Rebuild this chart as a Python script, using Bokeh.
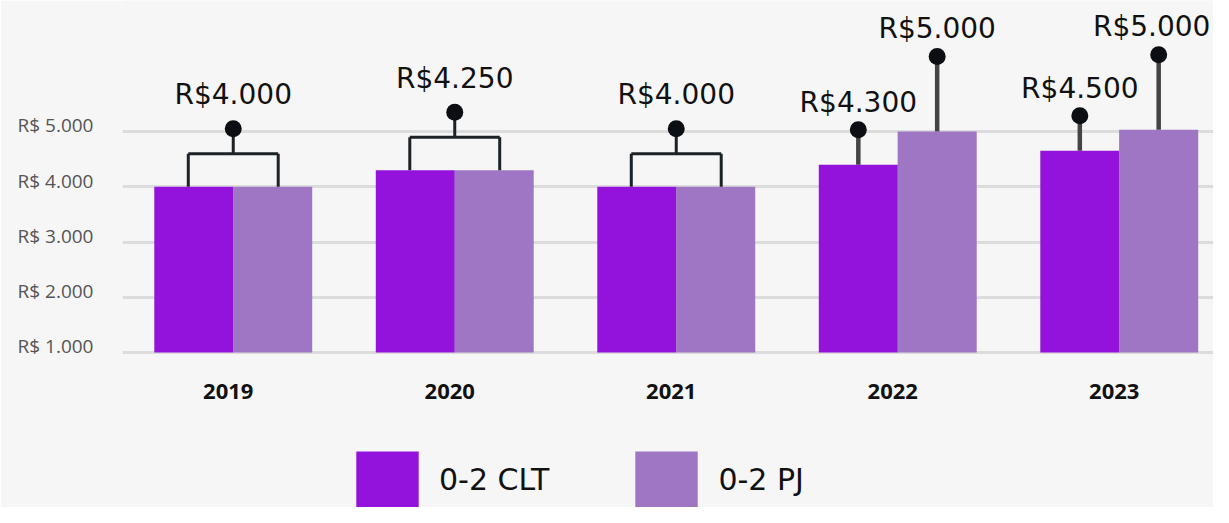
from bokeh.plotting import figure
from bokeh.models import ColumnDataSource, Range1d, FixedTicker, Legend, LegendItem
from bokeh.core.properties import value
from bokeh.embed import file_html
from bokeh.resources import INLINE

# ---- data ----
years = ["2019", "2020", "2021", "2022", "2023"]
clt_bar = [4000, 4300, 4000, 4400, 4650]      # bar heights
pj_bar = [4000, 4300, 4000, 5000, 5030]
clt_salary = [4000, 4250, 4000, 4300, 4500]   # labelled values
pj_salary = [4000, 4250, 4000, 5000, 5000]
y_ticks = [1000, 2000, 3000, 4000, 5000]
y_tick_labels = ["R$ 1.000", "R$ 2.000", "R$ 3.000", "R$ 4.000", "R$ 5.000"]
series_names = ["0-2 CLT", "0-2 PJ"]
colors = ["#9413dc", "#9e76c3"]


def brl(v):
    return "R$" + f"{v:,}".replace(",", ".")


W, H = 1213, 507
LEFT = 122
BAND = 221.5
X0 = -0.5
X1 = X0 + (W - LEFT) / BAND
Y0, Y1 = -1805, 7371
per_px = (Y1 - Y0) / H
BG = "#f6f6f6"
FONT = "Open Sans"
BIG = "DejaVu Sans"
BIG_SIZE = 28
OFF = 0.178
BW = 0.357
LEG = 0.203

xi = list(range(len(years)))


def keep_inside(x, text):
    """screen x-offset that keeps a centred label inside the canvas"""
    half = 0.5 * 0.6 * BIG_SIZE * len(text)
    cx = LEFT + (x - X0) * BAND
    return min(0.0, (W - 3) - (cx + half))


p = figure(width=W, height=H, x_range=Range1d(X0, X1), y_range=Range1d(Y0, Y1),
           output_backend="svg", toolbar_location=None, x_axis_location=None,
           min_border_left=LEFT, min_border_right=0, min_border_top=0, min_border_bottom=0,
           background_fill_color=BG, border_fill_color=BG, outline_line_color=None)

src = ColumnDataSource(dict(x=xi, year=years, clt=clt_bar, pj=pj_bar,
                            xc=[i - OFF for i in xi], xp=[i + OFF for i in xi]))

r1 = p.vbar(x="xc", top="clt", bottom=1000, width=BW, source=src,
            fill_color=colors[0], line_color=None)
r2 = p.vbar(x="xp", top="pj", bottom=1000, width=BW, source=src,
            fill_color=colors[1], line_color=None)

# ---- annotations: brackets for equal pairs, stems for unequal ----
eq = dict(x=[], xl=[], xr=[], top=[], mid=[], dot=[], lab_y=[], label=[], dx=[])
st = dict(x=[], top=[], dot=[], lab_y=[], label=[], dx=[])
for i in xi:
    if clt_salary[i] == pj_salary[i]:
        top = max(clt_bar[i], pj_bar[i])
        lab = brl(clt_salary[i])
        eq["x"].append(i)
        eq["xl"].append(i - LEG)
        eq["xr"].append(i + LEG)
        eq["top"].append(top)
        eq["mid"].append(top + 33 * per_px)
        eq["dot"].append(top + 58 * per_px)
        eq["lab_y"].append(top + 92 * per_px)
        eq["label"].append(lab)
        eq["dx"].append(keep_inside(i, lab))
    else:
        for off, bar, sal, d, l in ((-OFF, clt_bar[i], clt_salary[i], 35, 62),
                                    (OFF, pj_bar[i], pj_salary[i], 75, 103)):
            lab = brl(sal)
            st["x"].append(i + off)
            st["top"].append(bar)
            st["dot"].append(bar + d * per_px)
            st["lab_y"].append(bar + l * per_px)
            st["label"].append(lab)
            st["dx"].append(keep_inside(i + off, lab))

eq_src = ColumnDataSource(eq)
st_src = ColumnDataSource(st)
BR = "#1c2226"
DOT = "#0b0f13"
p.segment(x0="xl", x1="xl", y0="top", y1="mid", source=eq_src, line_color=BR, line_width=3)
p.segment(x0="xr", x1="xr", y0="top", y1="mid", source=eq_src, line_color=BR, line_width=3)
p.segment(x0="xl", x1="xr", y0="mid", y1="mid", source=eq_src, line_color=BR, line_width=3)
p.segment(x0="x", x1="x", y0="mid", y1="dot", source=eq_src, line_color=BR, line_width=3)
p.scatter(x="x", y="dot", source=eq_src, size=17, fill_color=DOT, line_color=None)
p.text(x="x", y="lab_y", text="label", x_offset="dx", source=eq_src, text_align="center",
       text_baseline="middle", text_font=value(BIG), text_font_size=f"{BIG_SIZE}px",
       text_color="#111111")

p.segment(x0="x", x1="x", y0="top", y1="dot", source=st_src, line_color="#444444", line_width=4.5)
p.scatter(x="x", y="dot", source=st_src, size=17, fill_color=DOT, line_color=None)
p.text(x="x", y="lab_y", text="label", x_offset="dx", source=st_src, text_align="center",
       text_baseline="middle", text_font=value(BIG), text_font_size=f"{BIG_SIZE}px",
       text_color="#111111")

# year labels
p.text(x="x", y=1000 - 39 * per_px, text="year", source=src, text_align="center",
       text_baseline="middle", x_offset=-5, text_font=value(FONT), text_font_style="bold",
       text_font_size="22px", text_color="#111111")

# ---- axes / grid ----
# tick labels sit a little above their grid lines in the reference
lift = round(6 * per_px)
label_ticks = [t + lift for t in y_ticks]
p.yaxis.ticker = FixedTicker(ticks=label_ticks)
p.yaxis.major_label_overrides = dict(zip(label_ticks, y_tick_labels))
p.yaxis.axis_line_color = None
p.yaxis.major_tick_line_color = None
p.yaxis.minor_tick_line_color = None
p.yaxis.major_tick_out = 0
p.yaxis.major_tick_in = 0
p.yaxis.major_label_standoff = 29
p.yaxis.major_label_text_font = FONT
p.yaxis.major_label_text_font_size = "19px"
p.yaxis.major_label_text_color = "#555555"
p.ygrid.ticker = FixedTicker(ticks=y_ticks)
p.ygrid.grid_line_color = "#dcdcdc"
p.ygrid.grid_line_width = 3
p.xgrid.visible = False

legend = Legend(items=[LegendItem(label=series_names[0], renderers=[r1]),
                       LegendItem(label=series_names[1], renderers=[r2])],
                orientation="horizontal", location=(226, -7),
                glyph_width=78, glyph_height=70, label_standoff=13, spacing=78,
                padding=0, margin=0, border_line_color=None, background_fill_alpha=0,
                label_text_font=BIG, label_text_font_size="30px", label_text_color="#111111")
p.add_layout(legend)

open("out.html", "w").write(file_html(p, INLINE))
